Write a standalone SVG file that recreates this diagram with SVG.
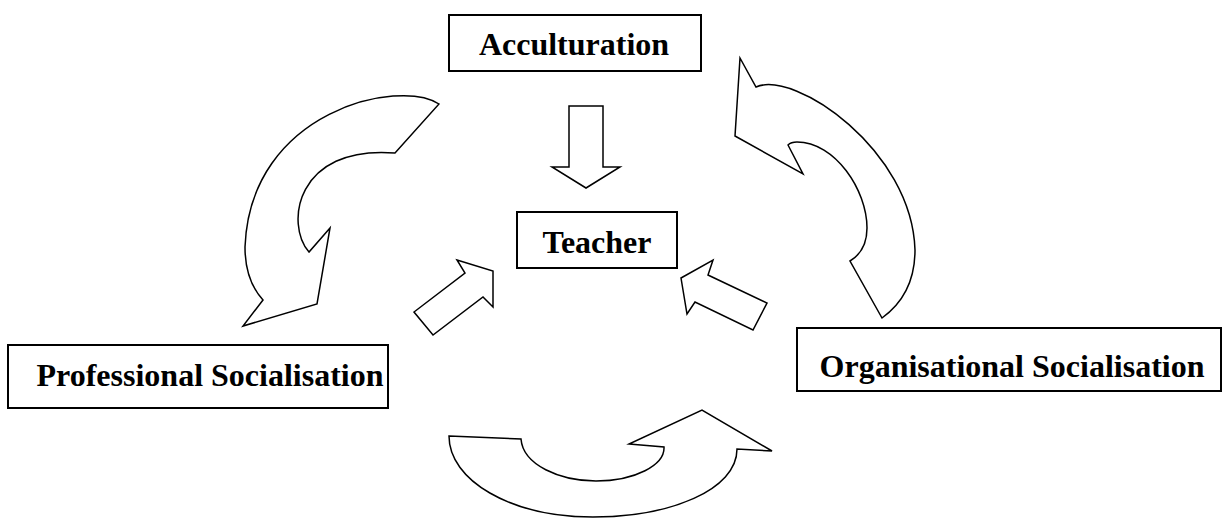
<svg xmlns="http://www.w3.org/2000/svg" width="1225" height="518" viewBox="0 0 1225 518">
<style>
.box{fill:#fff;stroke:#000;stroke-width:2}
.lbl{font-family:"Liberation Serif","Times New Roman",serif;font-weight:bold;font-size:32px;fill:#000;text-anchor:middle}
.arr{fill:#fff;stroke:#000;stroke-width:1.5;stroke-linejoin:miter}
</style>
<rect width="1225" height="518" fill="#fff"/>
<g id="connectors">
<path class="arr" d="M439,104 C400,78 250,110 245,247 C245,270 252,288 263,300 L243,326 L317,304 L330,228 L309,252 C285,225 295,145 395,153 Z"/>
<path class="arr" d="M740,58 L756,87 C795,70 912,150 915,250 C915,285 900,305 882,318 L850,261 C860,255 867,245 867,228 C867,190 835,142 797,142 C793,142 790,143 788,145 L803,174 L735,136 Z"/>
<path class="arr" d="M449,436 L521,439 C523,465 560,481 596,481 C635,481 665,465 664,447 L629,444 L702,410 L772,451 L737,449 C737,490 670,517 593,517 C510,517 449,480 449,436 Z"/>
<polygon class="arr" points="569,106 603,106 603,167 620,167 586,188 552,167 569,167"/>
<polygon class="arr" points="457,260 493,271 493,307 483,297 433,335 414,312 465,273"/>
<polygon class="arr" points="681,278 713,260 708,275 767,303 753,330 695,302 687,314"/>
</g>
<g id="acculturation">
<rect class="box" x="449" y="15" width="252" height="56"/>
<text class="lbl" x="574" y="55">Acculturation</text>
</g>
<g id="teacher">
<rect class="box" x="517" y="212" width="160" height="56"/>
<text class="lbl" x="597" y="253">Teacher</text>
</g>
<g id="professional">
<rect class="box" x="8" y="345" width="380" height="63"/>
<text class="lbl" x="210" y="386">Professional Socialisation</text>
</g>
<g id="organisational">
<rect class="box" x="797" y="328" width="424" height="63"/>
<text class="lbl" x="1012" y="377">Organisational Socialisation</text>
</g>
</svg>
